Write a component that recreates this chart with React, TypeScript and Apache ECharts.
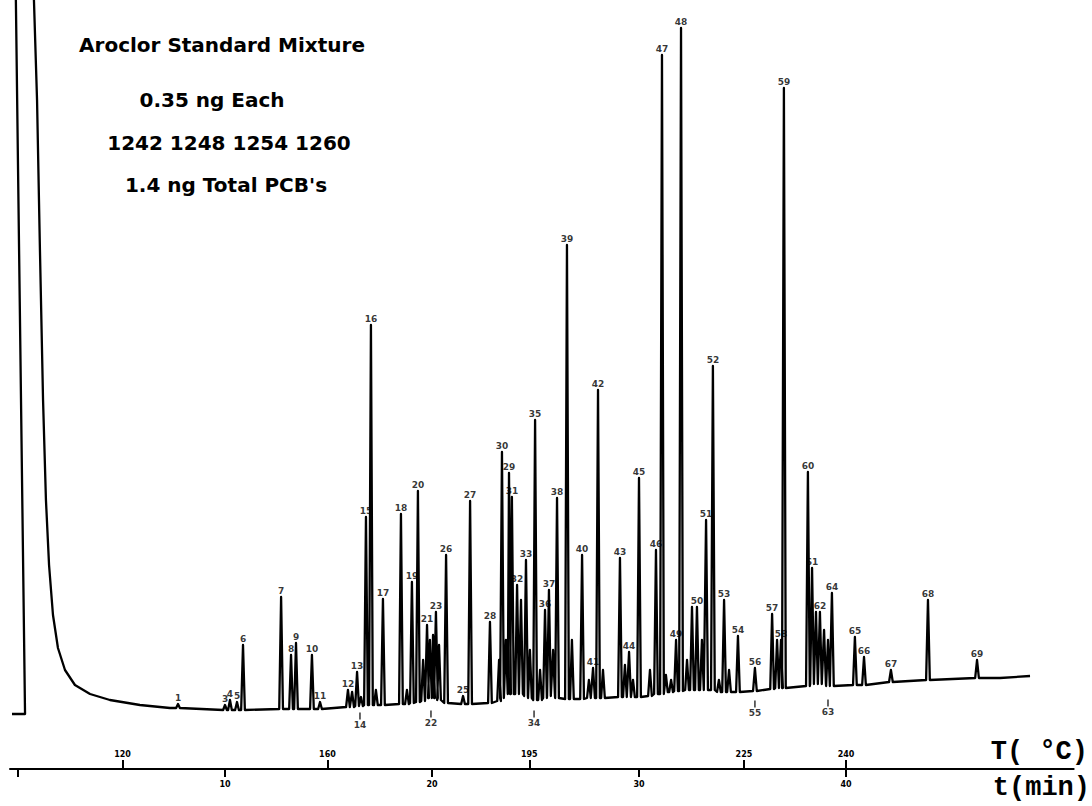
import React, { useEffect, useRef } from 'react';
import * as echarts from 'echarts';

// Chromatogram peaks (retention time in min, apex response, local baseline response, label)
const peakTimes = [7.73, 10.00, 10.24, 10.58, 10.87, 12.71, 13.19, 13.43, 14.20, 14.59,
  15.94, 16.14, 16.38, 16.57, 16.81, 17.05, 17.29, 17.63, 18.50, 18.79,
  19.03, 19.32, 19.57, 19.76, 19.90, 20.05, 20.19, 20.34, 20.68, 21.50,
  21.84, 22.80, 23.24, 23.38, 23.57, 23.72, 23.86, 24.11, 24.30, 24.54,
  24.73, 24.98, 25.22, 25.46, 25.65, 25.85, 26.04, 26.52, 26.76, 27.25,
  27.58, 27.78, 28.02, 28.26, 29.08, 29.32, 29.52, 29.71, 30.00, 30.53,
  30.82, 31.11, 31.30, 31.55, 31.79, 32.03, 32.32, 32.56, 32.80, 33.04,
  33.24, 33.57, 33.86, 34.11, 34.35, 34.78, 35.60, 36.43, 36.67, 36.86,
  37.00, 38.16, 38.36, 38.55, 38.74, 38.94, 39.13, 39.32, 40.43, 40.87,
  42.17, 43.96, 46.33];
const peakHeights = [12, 11, 16, 14, 71, 119, 61, 73, 61, 14,
  26, 24, 44, 19, 199, 391, 26, 117, 202, 26,
  134, 225, 56, 91, 76, 81, 104, 71, 161, 20,
  215, 94, 56, 264, 76, 243, 219, 131, 116, 156,
  66, 296, 46, 106, 126, 66, 218, 471, 76, 161,
  36, 48, 326, 46, 158, 51, 64, 36, 238, 46,
  166, 661, 41, 36, 76, 688, 56, 109, 109, 76,
  196, 350, 36, 116, 46, 80, 48, 102, 76, 76,
  628, 244, 148, 104, 104, 86, 76, 123, 79, 59,
  46, 116, 56];
const peakBases = [8, 6, 6, 6, 6, 7, 7, 7, 7, 7,
  9, 9, 10, 10, 11, 11, 11, 11, 12, 12,
  13, 14, 15, 18, 18, 18, 18, 16, 13, 12,
  12, 13, 15, 18, 22, 22, 22, 22, 22, 20,
  18, 16, 16, 18, 20, 20, 18, 17, 17, 17,
  18, 18, 18, 18, 19, 19, 19, 19, 19, 20,
  22, 22, 24, 24, 25, 25, 26, 26, 26, 26,
  26, 26, 24, 24, 24, 24, 25, 27, 28, 28,
  28, 30, 32, 32, 32, 32, 30, 30, 31, 31,
  34, 36, 38];
const peakLabels = ['1', '3', '4', '5', '6', '7', '8', '9', '10', '11',
  '12', '', '13', '', '15', '16', '', '17', '18', '',
  '19', '20', '', '21', '', '', '23', '', '26', '25',
  '27', '28', '', '30', '', '29', '31', '32', '', '33',
  '', '35', '', '36', '37', '', '38', '39', '', '40',
  '', '41', '42', '', '43', '', '44', '', '45', '',
  '46', '47', '', '', '49', '48', '', '', '50', '',
  '51', '52', '', '53', '', '54', '56', '57', '', '58',
  '59', '60', '61', '', '62', '', '', '64', '65', '66',
  '67', '68', '69'];

// Solvent front and trailing trace (time, response)
const solventTimes = [-0.29, 0.34, -0.14, 0.29, 0.77, 0.92, 1.06, 1.21, 1.35, 1.50, 1.69, 1.93, 2.27, 2.75, 3.48, 4.44, 5.89, 7.34];
const solventValues = [2, 2, 776, 1016, 716, 616, 466, 316, 216, 151, 101, 68, 46, 31, 22, 16, 11, 8];
const tailTimes = [47.44, 48.89];
const tailValues = [38, 40];

// Peak labels printed below the baseline
const lowLabelTimes = [7.73, 16.52, 19.95, 24.93, 35.60, 39.13];
const lowLabelValues = [-4, 0, 2, 2, 12, 13];
const lowLabelTexts = ['2', '14', '22', '34', '55', '63'];

// Axes
const timeTicks = [0, 10, 20, 30, 40];
const timeLabels = [10, 20, 30, 40];
const tempTickTimes = [5.05, 14.95, 24.7, 35.07, 40];
const tempTickLabels = ['120', '160', '195', '225', '240'];

const titleLines = ['Aroclor Standard Mixture', '0.35 ng Each', '1242 1248 1254 1260', "1.4 ng Total PCB's"];

export default function App() {
  const ref = useRef<HTMLDivElement>(null);
  useEffect(() => {
    if (!ref.current) return;
    const chart = echarts.init(ref.current, undefined, { renderer: 'svg' });
    const w = 0.09;
    const trace: (number[])[] = [];
    solventTimes.forEach((t, i) => trace.push([t, solventValues[i]]));
    peakTimes.forEach((t, i) => {
      trace.push([t - w, peakBases[i]]);
      trace.push([t, peakHeights[i]]);
      trace.push([t + w, peakBases[i]]);
    });
    tailTimes.forEach((t, i) => trace.push([t, tailValues[i]]));

    const labelData = peakTimes
      .map((t, i) => ({ name: peakLabels[i], value: [t, peakHeights[i]] }))
      .filter((d) => d.name !== '');
    const lowData = lowLabelTimes.map((t, i) => ({ name: lowLabelTexts[i], value: [t, lowLabelValues[i]] }));

    const titleY = [45, 100, 143, 185];
    const titleX = [222, 212, 229, 226];
    const graphics: any[] = titleLines.map((s, i) => ({
      type: 'text',
      x: titleX[i],
      y: titleY[i],
      style: {
        text: s,
        font: 'bold 20px "DejaVu Sans"',
        fill: '#000',
        textAlign: 'center',
        align: 'center',
        textVerticalAlign: 'middle',
        verticalAlign: 'middle',
      },
    }));
    graphics.push({
      type: 'text', x: 1088, y: 752,
      style: { text: 'T( °C)', font: 'bold 27px "Liberation Mono"', fill: '#000', textAlign: 'right', align: 'right', textVerticalAlign: 'middle', verticalAlign: 'middle' },
    });
    graphics.push({
      type: 'text', x: 1090, y: 788,
      style: { text: 't(min)', font: 'bold 27px "Liberation Mono"', fill: '#000', textAlign: 'right', align: 'right', textVerticalAlign: 'middle', verticalAlign: 'middle' },
    });

    const xMin = -0.3865;
    chart.setOption({
      animation: false,
      backgroundColor: '#fff',
      grid: { left: 10, right: 18.3, top: 0, bottom: 90, containLabel: false },
      xAxis: [
        {
          type: 'value', min: xMin, max: 51, position: 'bottom', offset: 53,
          axisLine: { show: true, onZero: false, lineStyle: { color: '#000', width: 2 } },
          axisTick: { show: true, length: 8, lineStyle: { color: '#000', width: 2 }, customValues: timeTicks },
          axisLabel: { show: true, customValues: timeLabels, fontSize: 8, fontWeight: 'bold', color: '#000', margin: 11, fontFamily: 'DejaVu Sans' },
          splitLine: { show: false },
        },
        {
          type: 'value', min: xMin, max: 51, position: 'bottom', offset: 53,
          axisLine: { show: false, onZero: false },
          axisTick: { show: true, inside: true, length: 9, lineStyle: { color: '#000', width: 2 }, customValues: tempTickTimes },
          axisLabel: {
            show: true, inside: true, customValues: tempTickTimes, fontSize: 8, fontWeight: 'bold', color: '#000', margin: 11, fontFamily: 'DejaVu Sans',
            formatter: (v: number) => {
              const i = tempTickTimes.indexOf(v);
              return i >= 0 ? tempTickLabels[i] : '';
            },
          },
          splitLine: { show: false },
        },
      ],
      yAxis: { type: 'value', min: 0, max: 716, show: false, splitLine: { show: false } },
      graphic: graphics,
      series: [
        {
          type: 'line', data: trace, showSymbol: false, clip: false,
          lineStyle: { color: '#000', width: 2.3, join: 'round' },
          silent: true,
        },
        {
          type: 'scatter', data: labelData, symbolSize: 0, xAxisIndex: 0,
          label: { show: true, position: 'top', distance: 2, formatter: (p: any) => p.name, fontSize: 9, fontWeight: 'bold', color: '#000', fontFamily: 'DejaVu Sans' },
          silent: true,
        },
        {
          type: 'scatter', data: lowData, symbol: 'rect', symbolSize: [1.5, 7], itemStyle: { color: '#000' },
          label: { show: true, position: 'bottom', distance: 1, formatter: (p: any) => p.name, fontSize: 9, fontWeight: 'bold', color: '#000', fontFamily: 'DejaVu Sans' },
          silent: true,
        },
      ],
    });
    return () => chart.dispose();
  }, []);
  return <div ref={ref} style={{ position: 'fixed', left: 0, top: 0, width: 1092, height: 806 }} />;
}
